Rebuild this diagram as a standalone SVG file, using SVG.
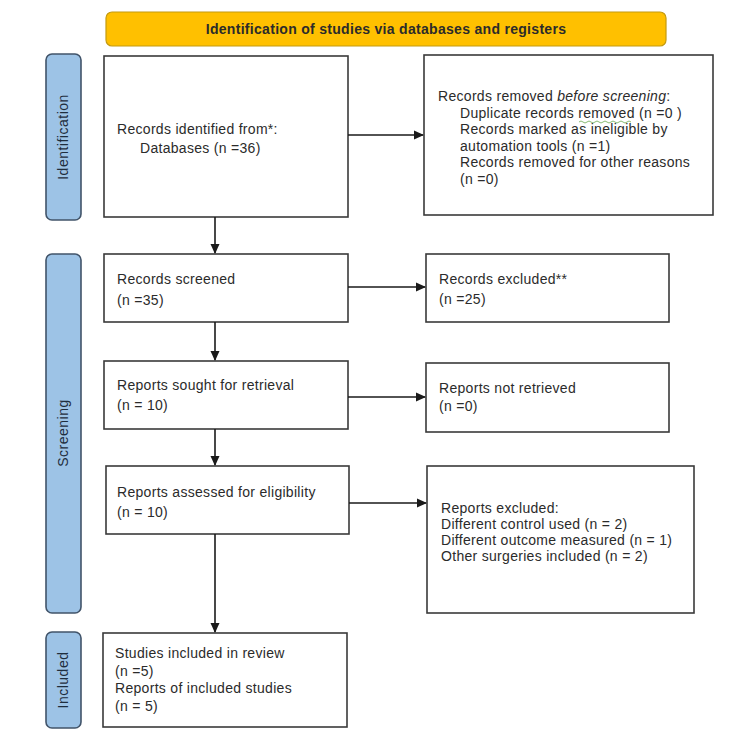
<svg xmlns="http://www.w3.org/2000/svg" width="750" height="730" viewBox="0 0 750 730">
<defs>
<marker id="ah" markerWidth="10" markerHeight="10" refX="9" refY="5" orient="auto" markerUnits="userSpaceOnUse">
<path d="M0,0.5 L10,5 L0,9.5 Z" fill="#1a1a1a"/>
</marker>
<style>
.box{fill:#fff;stroke:#3a3a3a;stroke-width:1.6}
.side{fill:#9dc3e6;stroke:#41546a;stroke-width:1.6}
.hdr{fill:#ffc000;stroke:#c49a10;stroke-width:1.2}
.t{font-family:"Liberation Sans",Arial,sans-serif;font-size:14px;letter-spacing:0.3px;fill:#2b2b2b}
.st{font-family:"Liberation Sans",Arial,sans-serif;font-size:14px;letter-spacing:0.5px;fill:#1f2d3d;text-anchor:middle}
.h{font-family:"Liberation Sans",Arial,sans-serif;font-size:14px;font-weight:bold;letter-spacing:0.3px;fill:#2b2b2b;text-anchor:middle}
.c{fill:none;stroke:#1a1a1a;stroke-width:1.6;marker-end:url(#ah)}
</style>
</defs>
<rect width="750" height="730" fill="#fff"/>

<g id="header">
<rect class="hdr" x="106" y="12" width="560" height="34" rx="6"/>
<text class="h" x="386" y="34">Identification of studies via databases and registers</text>
</g>

<g id="side-identification">
<rect class="side" x="46" y="54" width="35" height="166" rx="6"/>
<text class="st" transform="translate(68,137) rotate(-90)">Identification</text>
</g>
<g id="side-screening">
<rect class="side" x="46" y="254" width="35" height="359" rx="6"/>
<text class="st" transform="translate(68,433) rotate(-90)">Screening</text>
</g>
<g id="side-included">
<rect class="side" x="46" y="632" width="35" height="96" rx="6"/>
<text class="st" transform="translate(68,680) rotate(-90)">Included</text>
</g>

<g id="records-identified">
<rect class="box" x="104" y="56" width="244" height="161"/>
<text class="t" x="117" y="134">Records identified from*:</text>
<text class="t" x="140" y="153">Databases (n =36)</text>
</g>

<g id="records-removed">
<rect class="box" x="424" y="55" width="289" height="160"/>
<text class="t" x="438" y="101">Records removed <tspan font-style="italic">before screening</tspan>:</text>
<text class="t" x="460" y="118">Duplicate records removed  (n =0 )</text>
<path d="M579,122 q2,-2 4,0 t4,0 t4,0 t4,0 t4,0 t4,0 t4,0 t4,0 t4,0 t4,0 t4,0 t4,0 t4,0" fill="none" stroke="#6aa84f" stroke-width="0.8"/>
<text class="t" x="460" y="134">Records marked as ineligible by</text>
<text class="t" x="460" y="151">automation tools (n =1)</text>
<text class="t" x="460" y="167">Records removed for other reasons</text>
<text class="t" x="460" y="184">(n =0)</text>
</g>

<g id="records-screened">
<rect class="box" x="104" y="254" width="244" height="68"/>
<text class="t" x="117" y="284">Records screened</text>
<text class="t" x="117" y="305">(n =35)</text>
</g>

<g id="records-excluded">
<rect class="box" x="426" y="254" width="243" height="68"/>
<text class="t" x="439" y="284">Records excluded**</text>
<text class="t" x="439" y="304">(n =25)</text>
</g>

<g id="reports-sought">
<rect class="box" x="104" y="361" width="244" height="68"/>
<text class="t" x="117" y="390">Reports sought for retrieval</text>
<text class="t" x="117" y="410">(n = 10)</text>
</g>

<g id="reports-not-retrieved">
<rect class="box" x="426" y="363" width="243" height="69"/>
<text class="t" x="439" y="393">Reports not retrieved</text>
<text class="t" x="439" y="411">(n =0)</text>
</g>

<g id="reports-assessed">
<rect class="box" x="106" y="466" width="243" height="68"/>
<text class="t" x="117" y="497">Reports assessed for eligibility</text>
<text class="t" x="117" y="517">(n = 10)</text>
</g>

<g id="reports-excluded">
<rect class="box" x="427" y="466" width="267" height="147"/>
<text class="t" x="441" y="513">Reports excluded:</text>
<text class="t" x="441" y="529">Different control used (n = 2)</text>
<text class="t" x="441" y="545">Different outcome measured (n = 1)</text>
<text class="t" x="441" y="561">Other surgeries included (n = 2)</text>
</g>

<g id="studies-included">
<rect class="box" x="103" y="633" width="244" height="94"/>
<text class="t" x="115" y="658">Studies included in review</text>
<text class="t" x="115" y="676">(n =5)</text>
<text class="t" x="115" y="693">Reports of included studies</text>
<text class="t" x="115" y="711">(n = 5)</text>
</g>

<g id="connectors">
<line class="c" x1="215" y1="217" x2="215" y2="253"/>
<line class="c" x1="215" y1="322" x2="215" y2="360"/>
<line class="c" x1="215" y1="429" x2="215" y2="465"/>
<line class="c" x1="215" y1="534" x2="215" y2="632"/>
<line class="c" x1="348" y1="135" x2="423" y2="135"/>
<line class="c" x1="348" y1="287" x2="425" y2="287"/>
<line class="c" x1="348" y1="397" x2="425" y2="397"/>
<line class="c" x1="349" y1="503" x2="426" y2="503"/>
</g>
</svg>
